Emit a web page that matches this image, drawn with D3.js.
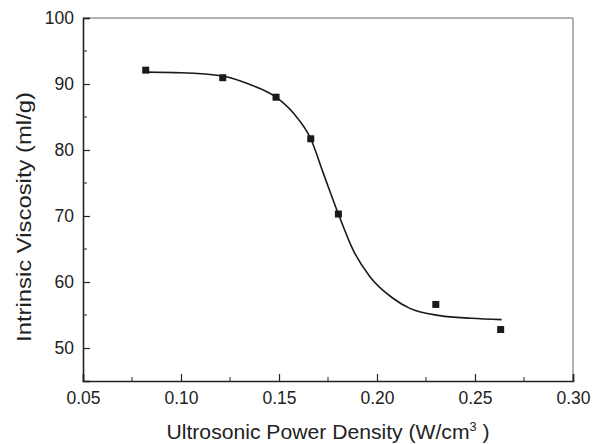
<html>
<head>
    <meta charset="utf-8">
    <style>
        body { margin: 0; background: white; }
        svg { display: block; }
        text { font-family: Arial, "Liberation Sans", Helvetica, sans-serif; fill: #222; }
    </style>
    <script src="https://d3js.org/d3.v7.min.js"></script>
</head>
<body>
    <svg id="chart"></svg>
<script>
    // measured points
    let powerDensity = [0.082, 0.1213, 0.1485, 0.1662, 0.1803, 0.230, 0.2631]
    let viscosity = [92.1, 90.95, 88.0, 81.7, 70.3, 56.6, 52.8]

    // fitted curve
    let fitX = [0.082, 0.100, 0.1213, 0.1335, 0.1485, 0.1573, 0.1662, 0.1726, 0.1803, 0.1879, 0.1964, 0.2083, 0.2168, 0.2321, 0.2480, 0.2636]
    let fitY = [91.8, 91.7, 91.2, 90.1, 88.0, 85.6, 81.7, 76.5, 70.3, 64.8, 60.8, 57.5, 56.0, 54.9, 54.5, 54.3]

    let xTicks = [0.05, 0.10, 0.15, 0.20, 0.25, 0.30]
    let yTicks = [50, 60, 70, 80, 90, 100]

    let width = 594
    let height = 444
    let margin = { top: 18, left: 83, right: 21, bottom: 63 }

    let svg = d3.select("#chart")
        .attr("width", width)
        .attr("height", height)

    let xScale = d3.scaleLinear()
        .domain([0.05, 0.30])
        .range([margin.left, width - margin.right])

    let yScale = d3.scaleLinear()
        .domain([45, 100])
        .range([height - margin.bottom, margin.top])

    // frame: top and right are thin grey
    svg.append("line")
        .attr("x1", xScale(0.05)).attr("x2", xScale(0.30))
        .attr("y1", yScale(100)).attr("y2", yScale(100))
        .attr("stroke", "#666").attr("stroke-width", 1)
    svg.append("line")
        .attr("x1", xScale(0.30)).attr("x2", xScale(0.30))
        .attr("y1", yScale(100)).attr("y2", yScale(45))
        .attr("stroke", "#666").attr("stroke-width", 1)

    // bottom axis, ticks pointing in
    let minorX = d3.range(0, 5).map(i => xTicks[i] + 0.025)
    let xAxis = svg.append("g")
        .attr("transform", `translate(0,${yScale(45)})`)
        .call(d3.axisBottom(xScale).tickValues(xTicks).tickSize(-7).tickPadding(11).tickFormat(d3.format(".2f")))
    xAxis.selectAll(".minor").data(minorX).enter().append("line")
        .attr("x1", d => xScale(d)).attr("x2", d => xScale(d))
        .attr("y1", 0).attr("y2", -4)
        .attr("stroke", "#222")

    // left axis
    let minorY = d3.range(0, 6).map(i => yTicks[i] - 5)
    let yAxis = svg.append("g")
        .attr("transform", `translate(${xScale(0.05)},0)`)
        .call(d3.axisLeft(yScale).tickValues(yTicks).tickSize(-7).tickPadding(9))
    yAxis.selectAll(".minor").data(minorY.filter(d => d > 45)).enter().append("line")
        .attr("x1", 0).attr("x2", 4)
        .attr("y1", d => yScale(d)).attr("y2", d => yScale(d))
        .attr("stroke", "#222")

    svg.selectAll(".domain").attr("stroke", "#222").attr("stroke-width", 1.6)
    svg.selectAll(".tick line").attr("stroke", "#222").attr("stroke-width", 1.2)
    svg.selectAll(".tick text")
        .attr("font-size", "17.5px")
        .attr("font-family", "Arial, 'Liberation Sans', sans-serif")
        .attr("fill", "#222")

    // axis titles
    let xTitle = svg.append("text")
        .attr("x", 328)
        .attr("y", 439)
        .attr("text-anchor", "middle")
        .attr("font-size", "20px")
        .attr("textLength", 323)
        .attr("lengthAdjust", "spacingAndGlyphs")
        .text("Ultrosonic Power Density (W/cm")
    xTitle.append("tspan").attr("dy", -8).attr("font-size", "12px").text("3")
    xTitle.append("tspan").attr("dy", 8).text(" )")

    svg.append("text")
        .attr("transform", "translate(31,217) rotate(-90)")
        .attr("text-anchor", "middle")
        .attr("font-size", "21px")
        .attr("textLength", 250)
        .attr("lengthAdjust", "spacingAndGlyphs")
        .text("Intrinsic Viscosity (ml/g)")

    // fitted curve
    let fit = fitX.map((x, i) => ({ x: x, y: fitY[i] }))
    let line = d3.line()
        .x(d => xScale(d.x))
        .y(d => yScale(d.y))
        .curve(d3.curveMonotoneX)
    svg.append("path")
        .datum(fit)
        .attr("d", line)
        .attr("fill", "none")
        .attr("stroke", "#1a1a1a")
        .attr("stroke-width", 1.6)

    // data markers
    let points = powerDensity.map((x, i) => ({ x: x, y: viscosity[i] }))
    let size = 7
    svg.selectAll(".pt").data(points).enter().append("rect")
        .attr("x", d => xScale(d.x) - size / 2)
        .attr("y", d => yScale(d.y) - size / 2)
        .attr("width", size)
        .attr("height", size)
        .attr("fill", "#1a1a1a")
</script>
</body>
</html>
